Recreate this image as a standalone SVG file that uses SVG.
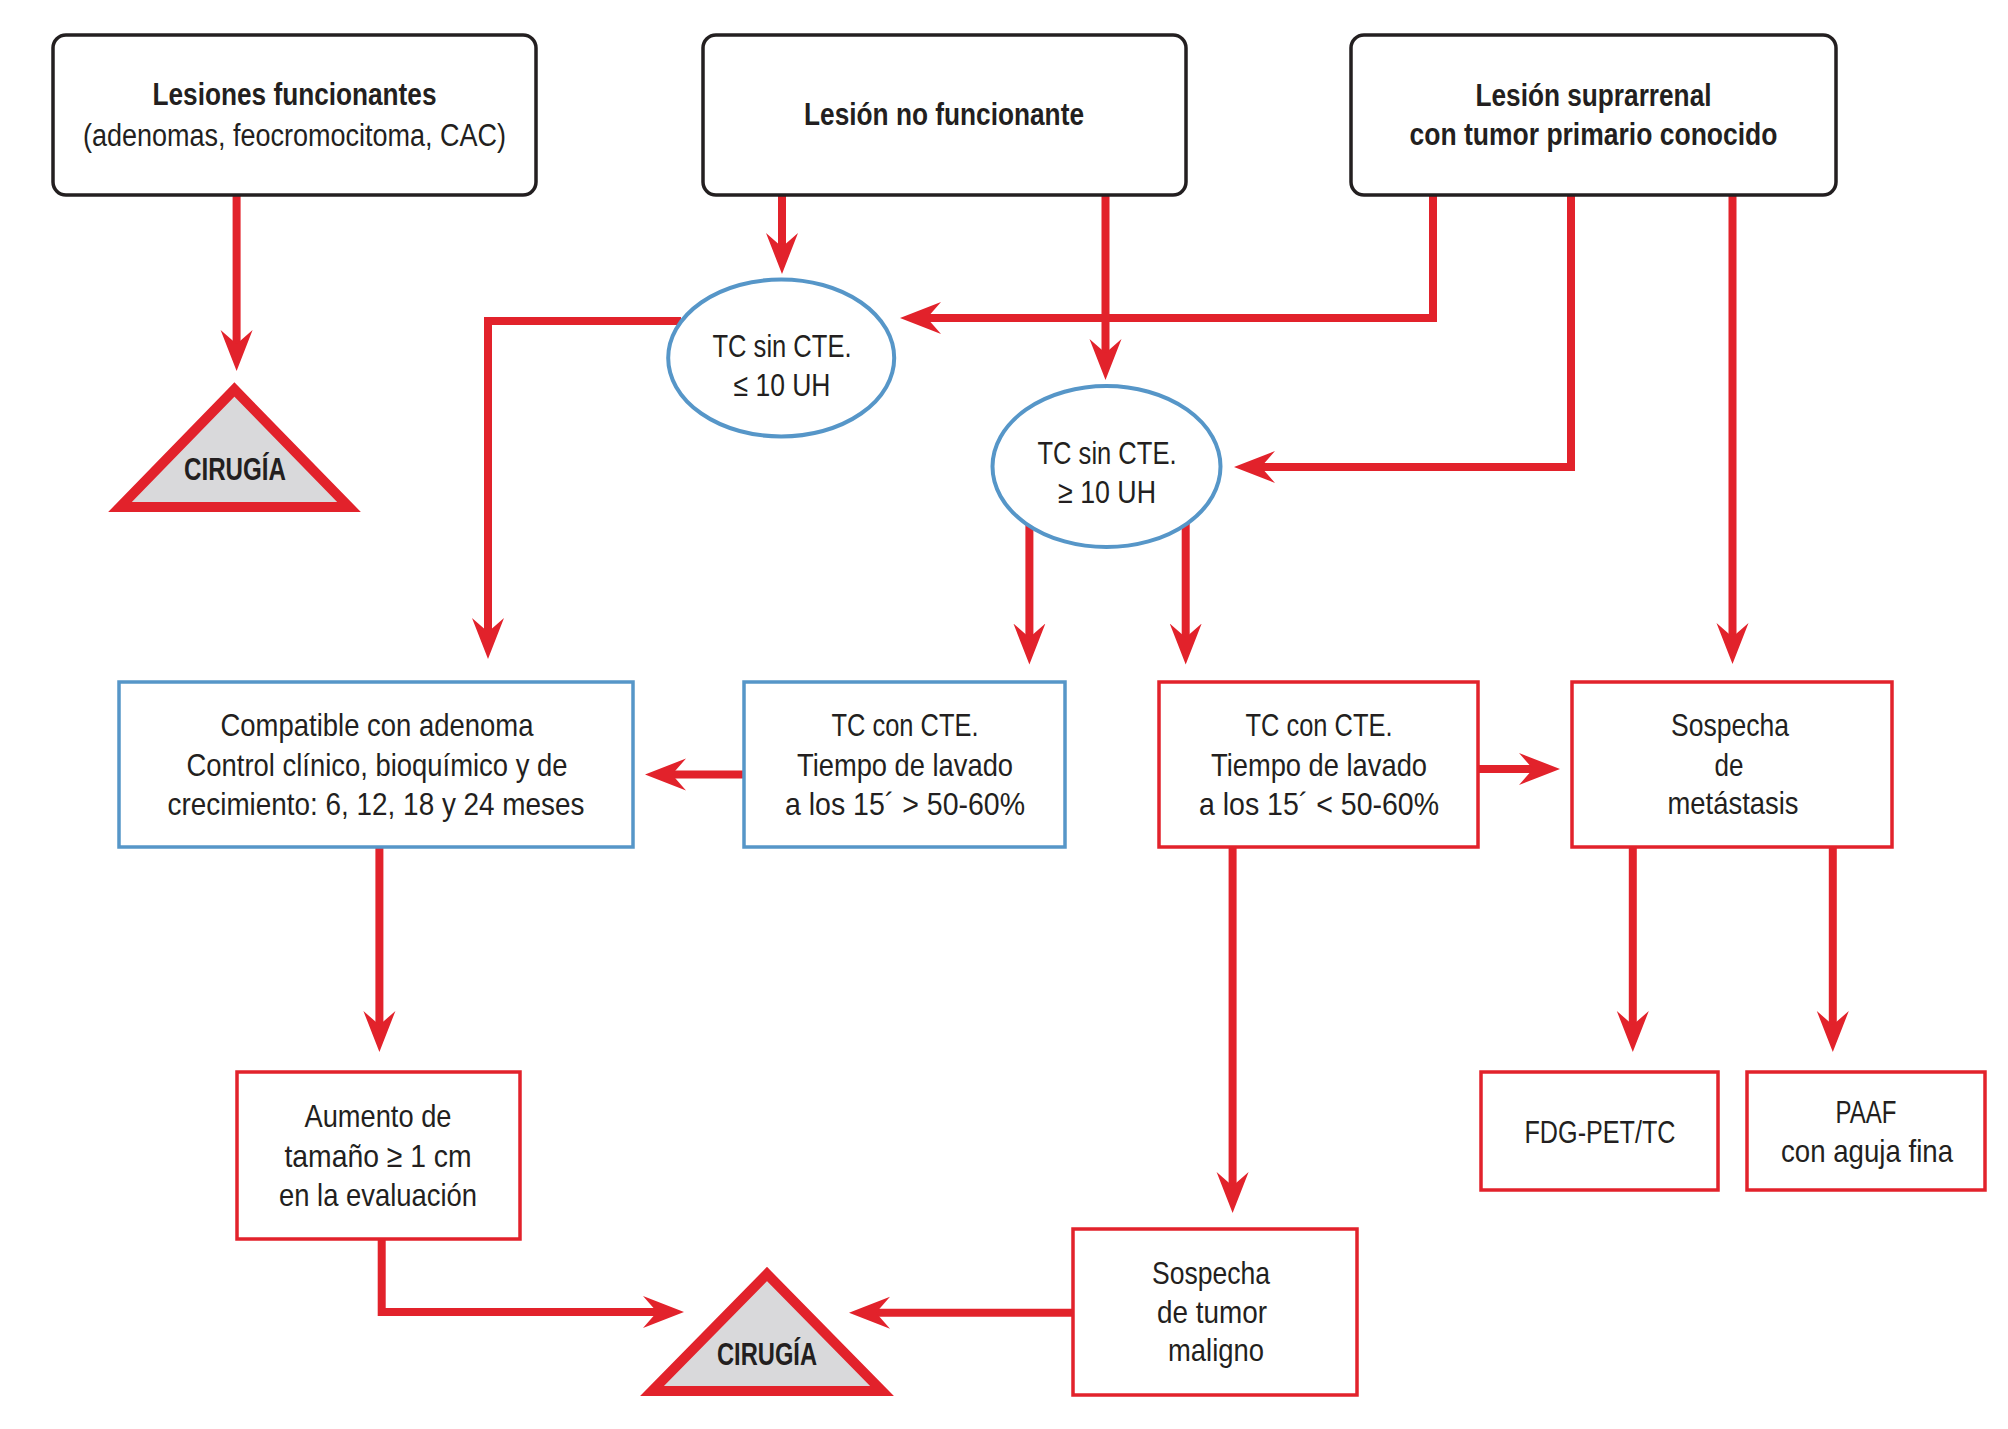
<svg xmlns="http://www.w3.org/2000/svg" width="2008" height="1429" viewBox="0 0 2008 1429">
<defs>
<style>
.t{font-family:"Liberation Sans Narrow","Liberation Sans",Arial,sans-serif;fill:#231f20;text-anchor:middle}
.r{font-family:"Liberation Sans",Arial,sans-serif;fill:#231f20;text-anchor:middle;font-size:32px}
.h{font-size:31px;font-weight:bold}
.n{font-size:31px}
.e{font-size:32px}
.c{font-size:32px;font-weight:bold}
.top{fill:#fff;stroke:#231f20;stroke-width:3.5}
.blue{fill:#fff;stroke:#5696c8;stroke-width:3.5}
.red{fill:#fff;stroke:#e2222b;stroke-width:3.5}
.ell{fill:#fff;stroke:#5696c8;stroke-width:4}
.tri{fill:#d9d9db;stroke:#e2222b;stroke-width:10;stroke-linejoin:miter;stroke-miterlimit:3}
.con path{fill:none;stroke:#e2222b;stroke-width:8;marker-end:url(#ah)}
</style>
<marker id="ah" markerUnits="userSpaceOnUse" markerWidth="44" markerHeight="36" viewBox="0 -18 44 36" refX="20" refY="0" orient="auto">
<path d="M0,-16 L41,0 L0,16 L14,0 Z" fill="#e2222b"/>
</marker>
</defs>
<rect width="2008" height="1429" fill="#fff"/>

<g class="con">
<path d="M236.6,195 V350"/>
<path d="M782,195 V253"/>
<path d="M1105.5,195 V359"/>
<path d="M1433,195 V318 H921"/>
<path d="M1571,195 V467 H1255"/>
<path d="M1732.5,195 V643"/>
<path d="M681,321 H488 V638"/>
<path d="M1029.4,522 V643.5"/>
<path d="M1185.7,522 V643.5"/>
<path d="M744,774.5 H666"/>
<path d="M1478,769 H1539"/>
<path d="M379.4,847 V1031"/>
<path d="M381.7,1239 V1312 H663"/>
<path d="M1232.6,847 V1192"/>
<path d="M1073,1312.7 H870"/>
<path d="M1632.8,847 V1031"/>
<path d="M1832.8,847 V1031"/>
</g>

<g id="n-funcionantes">
<rect class="top" x="53" y="35" width="483" height="160" rx="13"/>
<text class="t h" x="294.5" y="105" textLength="284" lengthAdjust="spacingAndGlyphs">Lesiones funcionantes</text>
<text class="t n" x="294.5" y="145.5" textLength="423" lengthAdjust="spacingAndGlyphs">(adenomas, feocromocitoma, CAC)</text>
</g>
<g id="n-nofuncionante">
<rect class="top" x="703" y="35" width="483" height="160" rx="13"/>
<text class="t h" x="944" y="125" textLength="280" lengthAdjust="spacingAndGlyphs">Lesión no funcionante</text>
</g>
<g id="n-suprarrenal">
<rect class="top" x="1351" y="35" width="485" height="160" rx="13"/>
<text class="t h" x="1593.5" y="106" textLength="236" lengthAdjust="spacingAndGlyphs">Lesión suprarrenal</text>
<text class="t h" x="1593.5" y="145" textLength="368" lengthAdjust="spacingAndGlyphs">con tumor primario conocido</text>
</g>

<g id="n-cirugia1">
<path class="tri" d="M234.4,389.5 L120,507 L349,507 Z"/>
<text class="t c" x="235" y="480" textLength="102" lengthAdjust="spacingAndGlyphs">CIRUGÍA</text>
</g>

<g id="n-tc-sin-le">
<ellipse class="ell" cx="781.2" cy="358" rx="113" ry="78.5"/>
<text class="t e" x="782" y="357" textLength="139" lengthAdjust="spacingAndGlyphs">TC sin CTE.</text>
<text class="t e" x="782" y="396" textLength="97" lengthAdjust="spacingAndGlyphs">≤ 10 UH</text>
</g>
<g id="n-tc-sin-ge">
<ellipse class="ell" cx="1106.5" cy="466.6" rx="114" ry="80.5"/>
<text class="t e" x="1107" y="464" textLength="139" lengthAdjust="spacingAndGlyphs">TC sin CTE.</text>
<text class="t e" x="1107" y="503" textLength="98" lengthAdjust="spacingAndGlyphs">≥ 10 UH</text>
</g>

<g id="n-compatible">
<rect class="blue" x="119" y="682" width="514" height="165"/>
<text class="r" x="377" y="736" textLength="313" lengthAdjust="spacingAndGlyphs">Compatible con adenoma</text>
<text class="r" x="377" y="776" textLength="381" lengthAdjust="spacingAndGlyphs">Control clínico, bioquímico y de</text>
<text class="r" x="376" y="815" textLength="417" lengthAdjust="spacingAndGlyphs">crecimiento: 6, 12, 18 y 24 meses</text>
</g>
<g id="n-tc-con-gt">
<rect class="blue" x="744" y="682" width="321" height="165"/>
<text class="r" x="905" y="736" textLength="147" lengthAdjust="spacingAndGlyphs">TC con CTE.</text>
<text class="r" x="905" y="776" textLength="216" lengthAdjust="spacingAndGlyphs">Tiempo de lavado</text>
<text class="r" x="905" y="815" textLength="240" lengthAdjust="spacingAndGlyphs">a los 15´ &gt; 50-60%</text>
</g>
<g id="n-tc-con-lt">
<rect class="red" x="1159" y="682" width="319" height="165"/>
<text class="r" x="1319" y="736" textLength="147" lengthAdjust="spacingAndGlyphs">TC con CTE.</text>
<text class="r" x="1319" y="776" textLength="216" lengthAdjust="spacingAndGlyphs">Tiempo de lavado</text>
<text class="r" x="1319" y="815" textLength="240" lengthAdjust="spacingAndGlyphs">a los 15´ &lt; 50-60%</text>
</g>
<g id="n-metastasis">
<rect class="red" x="1572" y="682" width="320" height="165"/>
<text class="t e" x="1730" y="736" textLength="118" lengthAdjust="spacingAndGlyphs">Sospecha</text>
<text class="t e" x="1729" y="776" textLength="29" lengthAdjust="spacingAndGlyphs">de</text>
<text class="t e" x="1733" y="814" textLength="131" lengthAdjust="spacingAndGlyphs">metástasis</text>
</g>

<g id="n-fdg">
<rect class="red" x="1481" y="1072" width="237" height="118"/>
<text class="t e" x="1600" y="1143" textLength="151" lengthAdjust="spacingAndGlyphs">FDG-PET/TC</text>
</g>
<g id="n-paaf">
<rect class="red" x="1747" y="1072" width="238" height="118"/>
<text class="t e" x="1866" y="1123" textLength="61" lengthAdjust="spacingAndGlyphs">PAAF</text>
<text class="t e" x="1867" y="1162" textLength="172" lengthAdjust="spacingAndGlyphs">con aguja fina</text>
</g>

<g id="n-aumento">
<rect class="red" x="237" y="1072" width="283" height="167"/>
<text class="r" x="378" y="1127" textLength="147" lengthAdjust="spacingAndGlyphs">Aumento de</text>
<text class="r" x="378" y="1167" textLength="187" lengthAdjust="spacingAndGlyphs">tamaño ≥ 1 cm</text>
<text class="r" x="378" y="1206" textLength="198" lengthAdjust="spacingAndGlyphs">en la evaluación</text>
</g>

<g id="n-cirugia2">
<path class="tri" d="M767,1274 L652,1391 L882,1391 Z"/>
<text class="t c" x="767" y="1365" textLength="100" lengthAdjust="spacingAndGlyphs">CIRUGÍA</text>
</g>

<g id="n-maligno">
<rect class="red" x="1073" y="1229" width="284" height="166"/>
<text class="r" x="1211" y="1284" textLength="118" lengthAdjust="spacingAndGlyphs">Sospecha</text>
<text class="r" x="1212" y="1323" textLength="110" lengthAdjust="spacingAndGlyphs">de tumor</text>
<text class="r" x="1216" y="1361" textLength="96" lengthAdjust="spacingAndGlyphs">maligno</text>
</g>
</svg>
